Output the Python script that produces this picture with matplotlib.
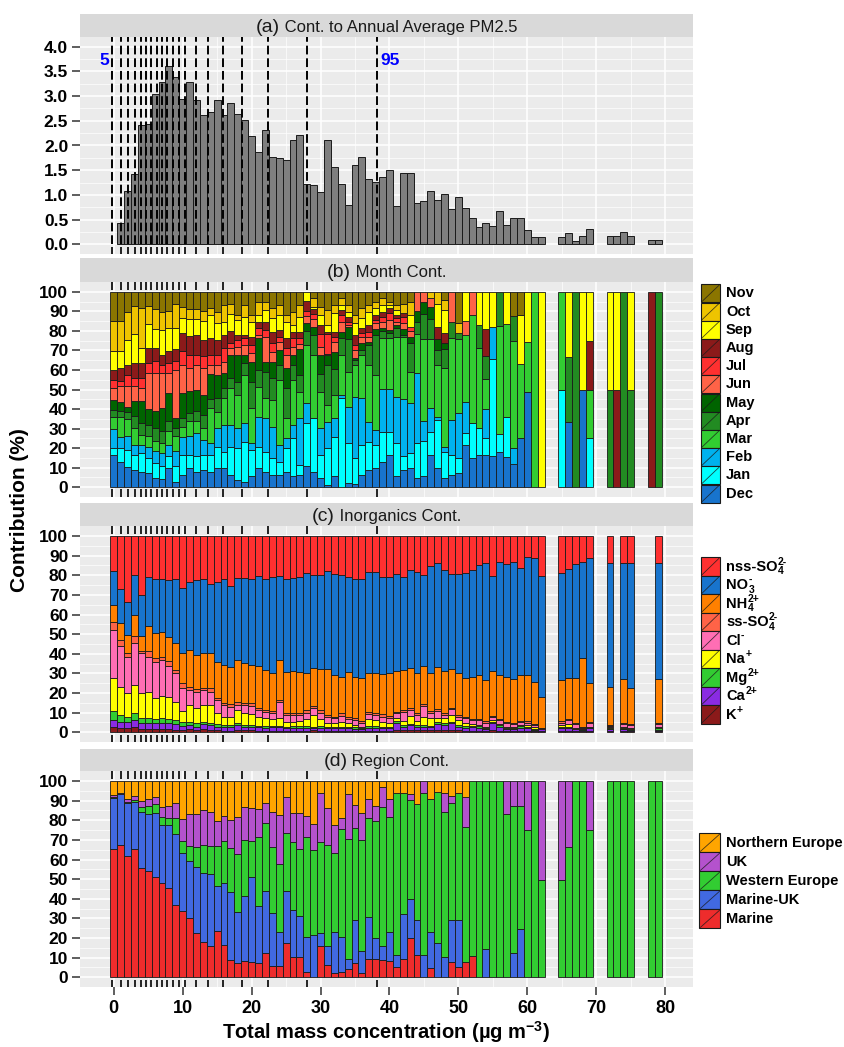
import matplotlib
matplotlib.use('Agg')
import matplotlib.pyplot as plt
import matplotlib.transforms as mtransforms
from matplotlib.patches import Rectangle
import numpy as np

plt.rcParams['font.family'] = ['Liberation Sans', 'DejaVu Sans']
plt.rcParams['mathtext.fontset'] = 'custom'
plt.rcParams['mathtext.rm'] = 'Liberation Sans:bold'
plt.rcParams['mathtext.it'] = 'Liberation Sans:bold'
plt.rcParams['mathtext.bf'] = 'Liberation Sans:bold'

# ---------------- data ----------------
# percentile marks (concentration, ug/m3)
pct = [-0.25, 1.12, 2.08, 3.05, 3.88, 4.64, 5.41, 6.2, 6.97, 7.74,
       8.61, 9.48, 10.4, 11.86, 13.6, 15.9, 18.58, 22.35, 28.05, 38.13]

# (a) contribution to annual average PM2.5 per 1 ug/m3 bin
bins_a = list(range(1, 63)) + [65, 66, 67, 68, 69, 72, 73, 74, 75, 78, 79]
pm = [0.43, 1.08, 1.43, 2.42, 2.43, 3.05, 3.28, 3.61, 3.39, 2.95,
      3.28, 2.93, 2.62, 2.68, 2.93, 2.61, 2.86, 2.63, 2.51, 2.20,
      1.86, 2.31, 1.77, 1.74, 1.70, 2.11, 2.22, 1.22, 1.20, 1.05,
      2.11, 1.57, 1.22, 0.80, 1.61, 1.76, 1.32, 1.27, 1.36, 1.51,
      0.78, 1.45, 1.45, 0.83, 0.87, 1.07, 0.90, 1.02, 0.71, 0.95,
      0.74, 0.53, 0.36, 0.43, 0.37, 0.68, 0.39, 0.53, 0.53, 0.28,
      0.14, 0.14,
      0.14, 0.22, 0.07, 0.16, 0.32,
      0.16, 0.16, 0.25, 0.17,
      0.09, 0.09]

# (b) month contribution (%), bins 0-62, 65-69, 72-75, 78-79
bins_b = list(range(0, 63)) + [65, 66, 67, 68, 69, 72, 73, 74, 75, 78, 79]
dec = [16.5, 13.1, 9.7, 8.9, 8.0, 7.2, 4.6, 4.3, 9.7, 2.9,
       6.3, 9.7, 8.0, 8.9, 7.7, 9.7, 9.7, 6.3, 3.7, 2.9,
       5.5, 9.7, 8.0, 6.3, 6.3, 8.0, 5.5, 6.3, 10.6, 8.0,
       4.6, 1.2, 5.5, 0, 2.0, 1.5, 6.3, 8.9, 9.7, 13.1,
       16.5, 5.5, 8.9, 9.7, 4.6, 5.5, 16.5, 9.7, 4.6, 6.3,
       7.2, 21.6, 14.8, 16.5, 16.5, 16.0, 17.9, 15.3, 11.9, 25.0,
       48.9, 0, 0,
       0, 33.3, 0, 50, 0,
       0, 0, 0, 0,
       0, 0]
jan = [3.7, 6.8, 8.5, 7.7, 9.4, 7.7, 7.7, 6.3, 6.0, 7.7,
       10.2, 6.8, 7.7, 7.7, 8.9, 11.1, 8.5, 14.5, 16.2, 20.4,
       13.6, 11.1, 10.2, 8.5, 6.8, 11.9, 19.6, 5.1, 22.1, 27.3,
       11.9, 18.7, 20.4, 45.5, 20.4, 13.3, 15.3, 14.5, 11.9, 15.3,
       11.9, 17.0, 6.8, 7.7, 17.9, 17.0, 12.0, 24.7, 13.6, 10.2,
       7.7, 6.0, 17.9, 13.6, 8.5, 49.7, 9.4, 20.4, 0, 0,
       0, 0, 0,
       50, 0, 0, 0, 25,
       0, 0, 0, 0,
       0, 0]
feb = [9.5, 6.0, 6.8, 5.1, 4.3, 5.5, 6.0, 6.8, 6.0, 7.7,
       9.4, 9.4, 11.9, 7.7, 6.0, 9.4, 13.6, 11.1, 10.2, 9.4,
       3.4, 15.3, 17.0, 16.2, 8.5, 5.1, 6.8, 23.9, 10.2, 0,
       13.6, 13.6, 9.4, 1.7, 18.7, 31.5, 23.9, 10.2, 7.7, 22.1,
       22.1, 23.9, 29.0, 25.5, 35.8, 10.0, 12.0, 1.7, 2.6, 17.9,
       23.0, 16.2, 0, 0, 15.0, 16.2, 0, 0, 8.3, 0,
       0, 0, 0,
       0, 0, 0, 0, 0,
       0, 0, 0, 0,
       0, 0]
mar = [6.3, 10.2, 8.0, 8.5, 5.1, 5.6, 5.1, 5.1, 6.8, 7.7,
       5.1, 7.7, 6.0, 6.0, 17.9, 8.5, 13.6, 18.7, 17.0, 24.7,
       17.9, 15.3, 10.2, 13.6, 33.2, 10.2, 23.0, 13.6, 29.8, 32.4,
       18.7, 8.5, 11.9, 20.4, 17.9, 16.2, 22.1, 29.0, 28.1, 25.6,
       25.6, 30.7, 31.5, 16.2, 20.0, 40.0, 35.5, 26.4, 40.0, 41.7,
       37.8, 34.2, 55.5, 40.9, 15.2, 0, 55.4, 47.7, 54.5, 38.3,
       25.6, 100, 0,
       50, 0, 0, 0, 25,
       0, 0, 0, 0,
       0, 0]
apr = [3.4, 3.0, 3.4, 6.0, 6.0, 6.0, 6.8, 6.0, 5.1, 4.3,
       4.3, 4.3, 5.1, 6.8, 4.8, 6.8, 5.1, 5.1, 6.8, 6.0,
       13.6, 8.5, 13.6, 11.1, 7.7, 15.3, 7.7, 8.5, 6.8, 10.2,
       9.4, 20.4, 13.6, 8.5, 17.0, 2.6, 2.6, 10.2, 20.4, 3.7,
       2.6, 4.3, 1.0, 14.5, 6.0, 12.0, 10.0, 7.5, 10.0, 8.5,
       3.4, 0, 0, 11.9, 12.0, 0, 17.3, 0, 12.8, 0,
       0, 0, 0,
       0, 33.3, 100, 0, 0,
       50, 0, 100, 50,
       0, 100]
may = [4.8, 4.7, 2.6, 7.7, 11.1, 7.7, 8.5, 11.9, 14.5, 5.1,
       12.8, 11.1, 11.1, 10.2, 12.6, 11.9, 7.7, 11.9, 13.6, 4.3,
       10.2, 16.2, 5.1, 8.5, 7.7, 10.2, 5.1, 13.6, 4.3, 4.3,
       9.4, 5.1, 8.5, 3.4, 6.0, 0.9, 3.4, 1.7, 3.4, 1.7,
       1.7, 1.7, 3.0, 3.4, 6.0, 6.0, 6.0, 6.0, 3.0, 0,
       0, 0, 0, 0, 0, 0, 0, 0, 0, 0,
       0, 0, 0,
       0, 0, 0, 0, 0,
       0, 0, 0, 0,
       0, 0]
jun = [6.3, 7.7, 10.2, 7.7, 6.8, 18.7, 19.6, 17.9, 10.2, 24.7,
       14.5, 11.9, 12.8, 13.6, 4.8, 5.1, 6.0, 3.4, 4.3, 5.1,
       4.3, 1.7, 12.8, 5.1, 4.3, 6.8, 4.3, 2.6, 3.4, 4.3,
       4.3, 0.9, 5.1, 5.1, 0.9, 4.3, 3.4, 2.6, 2.6, 3.1,
       5.1, 1.7, 3.0, 3.0, 9.7, 5.0, 5.0, 0, 0, 15.4,
       0, 6.8, 11.8, 0, 0, 0, 0, 0, 0, 0,
       0, 0, 0,
       0, 0, 0, 0, 0,
       0, 0, 0, 0,
       0, 0]
jul = [4.3, 3.0, 5.1, 4.3, 5.1, 5.1, 6.0, 4.3, 5.1, 4.3,
       6.8, 6.8, 5.1, 6.0, 5.1, 5.1, 6.8, 2.6, 3.4, 3.4,
       4.3, 3.4, 3.4, 4.3, 2.6, 3.4, 4.3, 2.6, 2.6, 2.6,
       6.8, 10.2, 2.6, 3.4, 1.7, 2.6, 1.7, 2.6, 1.7, 2.6,
       3.4, 1.7, 3.0, 2.0, 0, 0, 0, 0, 0, 0,
       0, 0, 0, 0, 0, 0, 0, 0, 0, 0,
       0, 0, 0,
       0, 0, 0, 0, 0,
       0, 0, 0, 0,
       0, 0]
aug = [5.0, 6.5, 5.1, 7.7, 7.7, 7.7, 6.8, 5.1, 6.0, 6.0,
       9.4, 9.4, 10.2, 8.5, 8.5, 7.7, 6.8, 6.3, 2.6, 1.7,
       4.3, 3.4, 4.3, 6.0, 3.4, 5.1, 3.4, 3.4, 5.1, 2.6,
       4.3, 0.9, 2.6, 2.6, 2.6, 5.1, 2.6, 3.4, 2.6, 2.6,
       2.6, 1.7, 2.0, 0, 0, 0, 0, 6.0, 5.1, 0,
       0, 0, 0, 0, 13.6, 0, 0, 0, 0, 0,
       0, 0, 0,
       0, 0, 0, 0, 25,
       0, 50, 0, 0,
       100, 0]
sep = [9.4, 8.5, 11.9, 14.5, 7.7, 11.9, 9.4, 12.3, 11.9, 11.1,
       7.7, 8.5, 7.7, 9.4, 11.9, 8.5, 6.8, 8.5, 7.7, 9.4,
       7.7, 3.4, 6.0, 6.8, 7.7, 8.5, 3.4, 7.7, 4.8, 0.9,
       5.1, 3.4, 9.4, 2.6, 2.6, 6.0, 5.1, 6.8, 3.4, 3.4,
       1.7, 2.6, 0, 6.0, 0, 0, 0, 12.0, 12.0, 0,
       0, 15.2, 0, 17.1, 19.2, 18.1, 0, 16.6, 0, 24.7,
       25.5, 0, 100,
       0, 33.4, 0, 50, 25,
       50, 50, 0, 50,
       0, 0]
oct_ = [15.3, 15.7, 13.6, 14.5, 20.4, 9.4, 10.2, 9.5, 8.5, 11.9,
        5.5, 5.1, 5.1, 5.1, 3.4, 6.0, 8.5, 5.6, 2.6, 6.0,
        3.4, 6.8, 4.3, 5.1, 5.1, 3.4, 6.8, 6.0, 0, 4.3,
        4.3, 7.7, 4.3, 3.4, 3.4, 4.3, 5.1, 3.4, 3.4, 3.4,
        1.7, 2.6, 5.0, 7.0, 0, 0, 3.0, 6.0, 5.0, 0,
        5.0, 0, 0, 0, 0, 0, 0, 0, 0, 0,
        0, 0, 0,
        0, 0, 0, 0, 0,
        0, 0, 0, 0,
        0, 0]
nov = [15.0, 14.7, 9.9, 7.3, 8.2, 7.3, 9.0, 10.2, 9.9, 6.5,
       7.8, 9.0, 9.0, 9.9, 8.5, 10.2, 6.8, 6.0, 11.9, 6.8,
       11.9, 5.1, 5.1, 8.5, 6.8, 11.9, 10.2, 6.8, 0, 3.4,
       7.7, 9.4, 6.8, 3.4, 6.8, 11.9, 8.5, 6.8, 5.1, 3.4,
       5.1, 6.8, 6.0, 5.0, 0, 0, 0, 0, 4.1, 0,
       15.9, 0, 0, 0, 0, 0, 0, 0, 12.5, 12.0,
       0, 0, 0,
       0, 0, 0, 0, 0,
       0, 0, 0, 0,
       0, 0]
month_names = [('Dec', '', ''), ('Jan', '', ''), ('Feb', '', ''), ('Mar', '', ''),
               ('Apr', '', ''), ('May', '', ''), ('Jun', '', ''), ('Jul', '', ''),
               ('Aug', '', ''), ('Sep', '', ''), ('Oct', '', ''), ('Nov', '', '')]

# (c) inorganics contribution (%), bins 0-62, 65-69, 72, 74, 75, 79
bins_c = list(range(0, 63)) + [65, 66, 67, 68, 69, 72, 74, 75, 79]
k_ion = [2.9, 2.4, 2.4, 2.9, 1.5, 1.5, 1.5, 1.5, 1.5, 1.2,
         1.2, 1.5, 1.2, 1.9, 1.2, 1.2, 0.8, 0.9, 1.2, 1.0,
         1.0, 0.9, 0.9, 0.9, 0.9, 0.8, 0.8, 0.8, 0.8, 1.2,
         0.8, 0.8, 0.7, 0.7, 0.7, 0.6, 0.5, 0.8, 0.8, 0.8,
         0.7, 1.2, 1.0, 1.0, 1.0, 1.0, 1.0, 1.0, 1.0, 1.0,
         1.0, 0.9, 0.9, 0.9, 0.6, 1.0, 0.9, 0.6, 0.6, 0.8,
         0.7, 0.5, 0.7,
         0.7, 0.8, 0.6, 0.5, 0.7,
         0.5, 0.5, 0.5, 0.5]
ca_ion = [3.4, 3.0, 2.7, 3.4, 3.1, 3.4, 3.1, 3.4, 3.1, 3.0,
          2.0, 2.2, 1.7, 2.2, 2.4, 1.7, 1.7, 1.7, 2.4, 1.8,
          1.6, 1.6, 1.5, 1.6, 1.6, 1.4, 1.5, 1.6, 1.6, 0.8,
          1.6, 1.4, 1.4, 1.5, 1.4, 1.3, 1.2, 1.6, 1.5, 1.4,
          1.4, 3.7, 1.9, 2.6, 1.9, 1.9, 1.5, 3.2, 2.7, 3.6,
          1.9, 1.5, 1.6, 1.5, 0.9, 3.6, 2.0, 0.9, 0.9, 1.6,
          1.3, 0.7, 0.8,
          1.3, 1.4, 0.9, 0.7, 1.3,
          1.0, 1.0, 0.7, 0.7]
mg_ion = [4.6, 3.4, 2.9, 3.4, 2.5, 2.2, 2.0, 2.2, 2.2, 2.1,
          2.2, 1.6, 2.0, 1.3, 1.3, 1.3, 1.2, 1.2, 1.0, 1.0,
          0.9, 0.8, 0.8, 0.8, 0.8, 0.7, 0.7, 0.8, 0.8, 0.9,
          0.8, 0.7, 0.7, 0.7, 0.7, 0.6, 0.5, 0.8, 0.8, 0.7,
          0.7, 0.7, 0.8, 0.8, 0.8, 0.8, 0.8, 0.8, 0.8, 0.8,
          0.8, 0.7, 0.7, 0.6, 0.6, 0.7, 0.6, 0.6, 0.6, 0.6,
          0.6, 0.6, 0.3,
          0.6, 0.6, 0.4, 0.3, 0.5,
          0.7, 0.7, 0.6, 0.9]
na_ion = [16.6, 14.5, 11.9, 14.4, 13.1, 13.3, 10.7, 11.4, 11.4, 9.3,
          5.6, 8.6, 7.3, 8.5, 9.0, 5.5, 4.3, 4.2, 6.8, 5.9,
          5.8, 4.7, 3.9, 3.5, 4.2, 2.2, 2.4, 2.7, 3.4, 5.9,
          3.4, 2.0, 1.8, 2.5, 1.8, 1.2, 0.7, 3.4, 3.2, 2.5,
          2.1, 1.5, 2.1, 3.9, 2.1, 4.3, 3.8, 2.1, 2.6, 3.4,
          2.6, 1.5, 1.0, 0.7, 0.8, 1.0, 0.7, 0.8, 0.8, 0.7,
          0.9, 1.1, 0.1,
          1.1, 1.4, 0.5, 0.3, 0.4,
          0.7, 0.7, 0.6, 0.8]
cl_ion = [24.6, 20.8, 18.3, 21.2, 20.0, 18.1, 18.7, 18.3, 15.6, 14.8,
          11.4, 7.7, 8.5, 7.7, 6.8, 6.8, 5.9, 5.1, 2.5, 4.2,
          4.3, 3.4, 3.4, 3.2, 7.8, 3.7, 3.4, 2.9, 3.4, 3.4,
          3.4, 2.7, 2.5, 2.9, 2.0, 2.6, 2.0, 2.7, 2.5, 2.5,
          2.2, 2.6, 4.7, 3.1, 3.0, 5.4, 2.9, 3.8, 1.7, 2.9,
          1.7, 2.5, 2.1, 2.6, 2.0, 1.3, 2.1, 1.7, 1.3, 1.7,
          1.4, 0.8, 0.1,
          1.2, 2.1, 1.8, 0.6, 1.7,
          0.5, 1.3, 1.3, 1.3]
ss_so4 = [4.1, 2.9, 2.4, 3.8, 1.4, 3.1, 1.7, 1.7, 2.5, 1.3,
          2.6, 1.3, 1.4, 1.2, 1.7, 1.2, 1.2, 1.3, 1.7, 1.2,
          1.2, 0.8, 0.9, 1.0, 1.0, 0.9, 1.2, 1.2, 1.4, 1.2,
          1.4, 1.2, 0.9, 1.4, 1.0, 0.8, 0.9, 0.9, 1.2, 1.4,
          1.2, 0.8, 0.9, 0.8, 0.9, 0.9, 0.8, 0.8, 0.8, 0.8,
          0.8, 0.7, 0.7, 0.7, 0.6, 0.7, 0.7, 0.6, 0.6, 0.6,
          0.6, 0.5, 0.1,
          0.6, 0.7, 0.6, 0.5, 0.6,
          0.5, 0.6, 0.5, 0.6]
nh4 = [8.7, 8.9, 9.0, 10.7, 7.5, 12.6, 12.7, 12.8, 12.4, 14.0,
       15.2, 19.0, 17.3, 17.4, 18.2, 18.3, 19.2, 19.0, 21.2, 20.0,
       19.5, 21.6, 20.3, 19.0, 20.5, 21.2, 21.4, 20.9, 19.0, 19.5,
       21.0, 23.6, 21.2, 18.7, 23.3, 21.3, 21.7, 20.2, 20.4, 20.6,
       21.8, 20.9, 20.3, 20.4, 20.4, 19.7, 19.3, 21.4, 21.6, 19.6,
       21.3, 19.7, 21.0, 22.2, 21.2, 23.1, 22.2, 23.2, 22.2, 23.2,
       23.7, 21.6, 16.1,
       21.2, 20.5, 22.7, 34.8, 20.1,
       19.0, 22.2, 18.2, 22.2]
no3 = [17.4, 16.9, 17.0, 20.3, 20.8, 24.7, 27.5, 26.6, 28.9, 32.2,
       33.5, 34.8, 38.2, 37.7, 34.8, 40.4, 43.6, 41.1, 42.0, 43.3,
       43.6, 45.8, 46.2, 48.9, 43.0, 47.0, 47.4, 48.4, 50.9, 47.1,
       47.6, 49.8, 51.4, 51.6, 48.0, 49.5, 50.4, 51.4, 51.4, 49.0,
       48.8, 49.2, 47.6, 50.1, 51.7, 46.0, 54.6, 53.3, 51.5, 48.5,
       50.5, 53.5, 54.7, 56.0, 59.4, 48.2, 57.7, 57.3, 59.9, 54.7,
       59.9, 62.8, 61.4,
       54.6, 55.5, 58.2, 49.2, 63.4,
       63.2, 59.1, 63.7, 59.1]
nss_so4 = [17.7, 27.2, 33.4, 19.9, 30.1, 21.1, 22.1, 22.1, 22.4, 22.1,
           26.3, 23.3, 22.4, 22.1, 24.6, 23.6, 22.1, 25.5, 21.2, 21.6,
           22.1, 20.4, 22.1, 21.1, 20.2, 22.1, 21.2, 20.7, 18.7, 20.0,
           20.0, 17.8, 19.4, 20.0, 21.1, 22.1, 22.1, 18.2, 18.2, 21.1,
           21.1, 19.4, 20.7, 17.3, 18.2, 20.0, 15.3, 13.6, 17.3, 19.4,
           19.4, 19.0, 17.3, 14.8, 13.9, 20.4, 13.1, 14.3, 13.1, 16.1,
           10.9, 11.4, 20.4,
           18.7, 17.0, 14.3, 13.1, 11.4,
           13.9, 13.9, 13.9, 13.9]
# (base, subscript, superscript), stack order bottom to top
ion_names = [('K', '', '+'), ('Ca', '', '2+'), ('Mg', '', '2+'), ('Na', '', '+'),
             ('Cl', '', '-'), ('ss-SO', '4', '2-'), ('NH', '4', '2+'),
             ('NO', '3', '-'), ('nss-SO', '4', '2-')]

# (d) region contribution (%), same bins as (b)
marine = [65.4, 67.4, 61.6, 65.5, 55.9, 54.2, 51.1, 47.9, 45.3, 36.8,
          33.8, 30.4, 22.4, 18.2, 16.0, 23.8, 16.5, 8.8, 7.5, 8.3,
          8.0, 7.5, 12.2, 5.8, 5.8, 17.7, 10.5, 10.5, 2.5, 0,
          16.0, 6.3, 2.4, 2.9, 4.1, 7.1, 2.4, 9.2, 9.5, 8.8,
          8.3, 5.4, 9.2, 19.9, 11.4, 0, 4.6, 0, 0, 7.6,
          5.4, 7.6, 11.0, 0, 0, 0, 0, 0, 0, 0,
          0, 0, 0,
          0, 0, 0, 0, 0,
          0, 0, 0, 0,
          0, 0]
marine_uk = [26.1, 25.8, 27.0, 24.0, 28.5, 28.8, 32.4, 29.5, 32.1, 36.4,
             29.5, 28.9, 34.0, 35.1, 36.5, 22.7, 31.7, 34.8, 25.6, 33.1,
             43.3, 29.0, 31.9, 27.1, 17.1, 26.3, 23.6, 20.6, 17.9, 21.4,
             6.4, 9.7, 20.5, 17.8, 5.1, 22.1, 11.0, 21.7, 10.7, 7.2,
             15.0, 6.0, 22.9, 20.0, 17.8, 11.4, 18.7, 17.3, 10.2, 21.6,
             23.8, 0, 0, 0, 14.3, 0, 0, 0, 12.6, 24.6,
             0, 0, 0,
             0, 0, 0, 0, 0,
             0, 0, 0, 0,
             0, 0]
west_eu = [0.5, 0.3, 0.9, 0.8, 2.4, 4.4, 5.0, 4.4, 3.8, 8.1,
           6.1, 7.8, 10.2, 13.9, 14.6, 20.6, 21.4, 22.3, 29.9, 28.4,
           18.3, 35.1, 34.3, 33.3, 34.8, 29.7, 34.7, 34.4, 50.9, 43.5,
           46.4, 51.6, 40.3, 54.7, 61.3, 46.9, 56.5, 50.1, 59.6, 70.6,
           58.5, 82.7, 61.6, 50.4, 59.1, 82.7, 67.4, 77.1, 74.2, 59.4,
           64.9, 69.1, 89.0, 100, 85.7, 100, 100, 83.0, 74.7, 62.7,
           75.0, 100, 49.6,
           49.6, 66.6, 100, 100, 75.0,
           100, 100, 100, 100,
           100, 100]
uk = [1.0, 0.5, 1.3, 2.1, 2.8, 3.6, 3.5, 5.0, 5.9, 7.5,
      11.1, 15.9, 16.4, 18.0, 17.3, 12.4, 12.6, 14.2, 18.5, 16.8,
      16.5, 14.3, 10.6, 17.8, 25.2, 18.3, 14.7, 18.2, 10.9, 13.2,
      24.9, 18.8, 14.4, 5.6, 22.7, 11.7, 14.0, 9.7, 7.6, 10.2,
      9.2, 0, 0, 2.9, 0, 5.9, 0, 0, 9.3, 3.8,
      0, 15.3, 0, 0, 0, 0, 0, 17.0, 12.7, 12.7,
      25.0, 0, 50.4,
      50.4, 33.4, 0, 0, 25.0,
      0, 0, 0, 0,
      0, 0]
north_eu = [7.0, 6.0, 9.2, 7.6, 10.4, 9.0, 8.0, 13.2, 12.9, 11.2,
            19.5, 17.0, 17.0, 14.8, 15.6, 20.5, 17.8, 19.9, 18.5, 13.4,
            13.9, 14.1, 11.0, 16.0, 17.1, 8.0, 16.5, 16.3, 17.8, 21.9,
            6.3, 13.6, 22.4, 19.0, 6.8, 12.2, 16.1, 9.3, 12.6, 3.2,
            9.0, 5.9, 6.3, 6.8, 11.7, 0, 9.3, 5.6, 6.3, 7.6,
            5.9, 8.0, 0, 0, 0, 0, 0, 0, 0, 0,
            0, 0, 0,
            0, 0, 0, 0, 0,
            0, 0, 0, 0,
            0, 0]
reg_names = [('Marine', '', ''), ('Marine-UK', '', ''), ('Western Europe', '', ''),
             ('UK', '', ''), ('Northern Europe', '', '')]

# ---------------- styles ----------------
month_cols = ['#1874CD', '#00FFFF', '#00B2EE', '#32CD32', '#228B22', '#006400',
              '#FF6347', '#FF3030', '#8B1A1A', '#FFFF00', '#EEC400', '#8B7500']
ion_cols = ['#8B1A1A', '#8A2BE2', '#32CD32', '#FFFF00', '#FF6EB4',
            '#FF6347', '#FF8000', '#1874CD', '#FF3030']
reg_cols = ['#EE2C2C', '#4169E1', '#32CD32', '#B452CD', '#FFA500']

W, H = 845, 1047
PX_L, PX_R = 80, 692.7
fig = plt.figure(figsize=(W / 100, H / 100), dpi=100)
ov = fig.add_axes([0, 0, 1, 1], zorder=-1)
ov.set_xlim(0, W)
ov.set_ylim(H, 0)
ov.axis('off')
rend = fig.canvas.get_renderer()


def make_panel(top, bottom):
    ax = fig.add_axes([PX_L / W, 1 - bottom / H, (PX_R - PX_L) / W, (bottom - top) / H])
    ax.set_facecolor('#EBEBEB')
    for s in ax.spines.values():
        s.set_visible(False)
    ax.set_xlim(-4.9, 84)
    ax.set_xticks(np.arange(0, 81, 10))
    ax.set_xticks(np.arange(5, 80, 10), minor=True)
    ax.grid(which='major', color='white', lw=1.1)
    ax.grid(which='minor', color='white', lw=0.5)
    ax.set_axisbelow(True)
    ax.tick_params(axis='x', which='both', length=0, labelbottom=False)
    ax.tick_params(axis='y', which='major', length=5.5, width=1.1, color='#333333',
                   pad=3, labelsize=12.5, labelcolor='black')
    ax.tick_params(axis='y', which='minor', length=0)
    return ax


def strip(tag, text, top, bottom):
    ov.add_patch(Rectangle((PX_L, top), PX_R - PX_L, bottom - top, fc='#D9D9D9', ec='none'))
    yb = bottom - 5
    t1 = ov.text(0, yb, tag, fontsize=14, va='baseline', ha='left', color='#1A1A1A')
    t2 = ov.text(0, yb, ' ' + text, fontsize=12, va='baseline', ha='left', color='#1A1A1A')
    w1 = t1.get_window_extent(rend).width
    w2 = t2.get_window_extent(rend).width
    x0 = (PX_L + PX_R) / 2 - (w1 + w2) / 2
    t1.set_x(x0)
    t2.set_x(x0 + w1)


def rug(ax, top=True):
    tr = mtransforms.blended_transform_factory(ax.transData, ax.transAxes)
    ax.vlines(pct, 0, 0.035, transform=tr, colors='black', lw=1.2, zorder=5)
    if top:
        ax.vlines(pct, 0.965, 1, transform=tr, colors='black', lw=1.2, zorder=5)


def pct_axis(ax):
    ax.set_ylim(-5, 105)
    ax.set_yticks(np.arange(0, 101, 10), labels=[str(v) for v in range(0, 101, 10)],
                  fontweight='bold')
    ax.set_yticks(np.arange(5, 100, 10), minor=True)


def stacked(ax, bins, layers, cols):
    vals = np.array(layers, dtype=float)
    share = vals / vals.sum(axis=0) * 100
    x = np.array(bins)
    base = np.zeros(len(bins))
    for row, c in zip(share, cols):
        m = row > 0
        ax.bar(x[m], row[m], bottom=base[m], width=1.0, color=c,
               edgecolor='#1A1A1A', linewidth=0.6, zorder=3)
        base += row


def legend(names, cols, x0, top, row_h, box_w):
    # names given bottom-to-top of stack; legend lists top-to-bottom
    for i, ((base, sub, sup), c) in enumerate(zip(names[::-1], cols[::-1])):
        y = top + i * row_h
        ov.add_patch(Rectangle((x0, y), box_w, row_h, fc=c, ec='#1A1A1A', lw=0.8))
        ov.plot([x0 + 1, x0 + box_w - 1], [y + row_h - 1, y + 1], color='#1A1A1A',
                lw=0.6, alpha=0.8)
        yc = y + row_h / 2
        t = ov.text(x0 + box_w + 6, yc, base, fontsize=10.5, fontweight='bold',
                    va='center', ha='left')
        xe = x0 + box_w + 6 + t.get_window_extent(rend).width + 0.5
        if sub:
            ov.text(xe, yc + 4.5, sub, fontsize=7.5, fontweight='bold', va='center', ha='left')
        if sup:
            ov.text(xe, yc - 5, sup, fontsize=7.5, fontweight='bold', va='center', ha='left')


# ---- (a) ----
ax_a = make_panel(36.8, 254.2)
ax_a.bar(bins_a, pm, width=1.0, color='#7F7F7F', edgecolor='#1A1A1A', linewidth=0.7, zorder=3)
ax_a.set_ylim(-0.2, 4.2)
ax_a.set_yticks(np.arange(0, 4.01, 0.5), labels=['%.1f' % v for v in np.arange(0, 4.01, 0.5)],
                fontweight='bold')
ax_a.set_yticks(np.arange(0.25, 4.0, 0.5), minor=True)
ax_a.vlines(pct, 0, 4.2, colors='black', lw=1.4, linestyles=(0, (4.5, 2.0)), zorder=4)
rug(ax_a, top=False)
ax_a.text(pct[0] - 0.4, 3.72, '5', color='blue', fontsize=12.5, fontweight='bold',
          ha='right', va='center')
ax_a.text(pct[-1] + 0.6, 3.72, '95', color='blue', fontsize=12.5, fontweight='bold',
          ha='left', va='center')
strip('(a)', 'Cont. to Annual Average PM2.5', 14, 36.8)

# ---- (b) ----
ax_b = make_panel(282, 497)
stacked(ax_b, bins_b, [dec, jan, feb, mar, apr, may, jun, jul, aug, sep, oct_, nov], month_cols)
pct_axis(ax_b)
rug(ax_b)
strip('(b)', 'Month Cont.', 258, 282)
legend(month_names, month_cols, 701, 284.3, 18.2, 19)

# ---- (c) ----
ax_c = make_panel(526.2, 742.1)
stacked(ax_c, bins_c, [k_ion, ca_ion, mg_ion, na_ion, cl_ion, ss_so4, nh4, no3, nss_so4], ion_cols)
pct_axis(ax_c)
rug(ax_c)
strip('(c)', 'Inorganics Cont.', 503, 526.2)
legend(ion_names, ion_cols, 701, 557.3, 18.5, 19)

# ---- (d) ----
ax_d = make_panel(771.2, 987.1)
stacked(ax_d, bins_b, [marine, marine_uk, west_eu, uk, north_eu], reg_cols)
pct_axis(ax_d)
rug(ax_d)
strip('(d)', 'Region Cont.', 749, 771.2)
legend(reg_names, reg_cols, 699.5, 833.3, 19, 21)
ax_d.tick_params(axis='x', which='major', length=5.5, width=1.1, color='#333333',
                 labelbottom=True, pad=3.5)
ax_d.set_xticks(np.arange(0, 81, 10), labels=[str(v) for v in range(0, 81, 10)],
                fontweight='bold', fontsize=13)

ov.text((PX_L + PX_R) / 2, 1032, r'Total mass concentration (µg m$^{-3}$)',
        fontsize=14.5, fontweight='bold', ha='center', va='center')
ov.text(20, 510, 'Contribution (%)', fontsize=15, fontweight='bold',
        ha='center', va='center', rotation=90)

fig.savefig('out.png', dpi=100)
